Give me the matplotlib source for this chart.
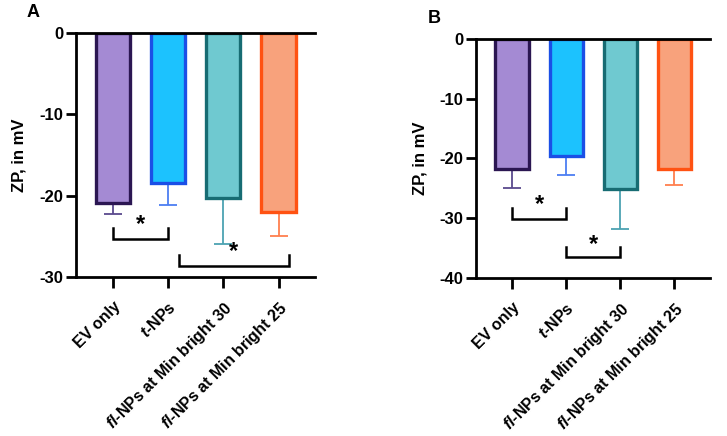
import matplotlib.pyplot as plt
import numpy as np

plt.rcParams['font.family'] = 'Liberation Sans'
plt.rcParams['font.weight'] = 'bold'
plt.rcParams['axes.unicode_minus'] = False
plt.rcParams['mathtext.fontset'] = 'custom'
plt.rcParams['mathtext.it'] = 'Liberation Sans:italic:bold'
plt.rcParams['mathtext.rm'] = 'Liberation Sans:bold'

categories = ["EV only", r"$t$-NPs", r"$fl$-NPs at Min bright 30", r"$fl$-NPs at Min bright 25"]

# panel A
zp_a = [-20.9, -18.5, -20.3, -22.0]
err_a = [1.3, 2.6, 5.6, 2.9]
yticks_a = [0, -10, -20, -30]
# panel B
zp_b = [-21.8, -19.6, -25.2, -21.8]
err_b = [3.2, 3.2, 6.7, 2.7]
yticks_b = [0, -10, -20, -30, -40]

fill_colors = ["#A48AD3", "#1CC2FE", "#6FC9D0", "#F8A27C"]
edge_colors = ["#2B1652", "#1B4FE6", "#176C73", "#FF5212"]
err_colors = ["#5B4A8E", "#4C7EF2", "#4CA3B2", "#FF7F4E"]

# brackets: (x1, x2, tip_y, bar_y, star_x, star_y)
brackets_a = [(0, 1, -24.0, -25.3, 0.5, -23.6),
              (1.2, 3.18, -27.3, -28.6, 2.19, -26.9)]
brackets_b = [(0, 1, -28.3, -30.1, 0.5, -27.7),
              (1, 2, -34.8, -36.6, 1.5, -34.4)]


def draw_panel(ax, values, errs, brackets, yticks, letter):
    x = np.arange(len(values))
    for i in range(len(values)):
        ax.errorbar(x[i], values[i], yerr=[[errs[i]], [0]], fmt='none',
                    ecolor=err_colors[i], elinewidth=1.3, capsize=6.5,
                    capthick=1.3, zorder=1)
        ax.bar(x[i], values[i], width=0.62, color=fill_colors[i],
               edgecolor=edge_colors[i], linewidth=2.4, zorder=2)
    for x1, x2, tip, low, sx, sy in brackets:
        ax.plot([x1, x1, x2, x2], [tip, low, low, tip], color='black',
                lw=1.8, solid_joinstyle='miter', clip_on=False, zorder=3)
        ax.text(sx, sy, '*', ha='center', va='center', fontsize=17,
                fontweight='bold', zorder=3)
    ax.set_xlim(-0.67, 3.66)
    ax.set_ylim(min(yticks), 0)
    ax.set_yticks(yticks)
    ax.set_yticklabels([str(t) for t in yticks], fontsize=12, fontweight='bold')
    ax.set_xticks(x)
    ax.set_xticklabels(categories, rotation=45, ha='right', va='top',
                       rotation_mode='anchor', fontsize=11.5, fontweight='bold')
    ax.tick_params(axis='x', length=8, width=2, pad=8)
    ax.tick_params(axis='y', length=7, width=2, pad=2)
    ax.spines['right'].set_visible(False)
    for s in ['left', 'bottom', 'top']:
        ax.spines[s].set_linewidth(2.0)
    ax.set_ylabel('ZP, in mV', fontsize=12, fontweight='bold')
    ax.yaxis.set_label_coords(-0.207, 0.5)
    ax.text(-0.18, 1.05, letter, transform=ax.transAxes, fontsize=13,
            fontweight='bold', ha='center', va='bottom')


fig = plt.figure(figsize=(7.27, 4.36), dpi=100)
ax_a = fig.add_axes([0.1045, 0.3647, 0.3288, 0.5596])
ax_b = fig.add_axes([0.6548, 0.3635, 0.3219, 0.5463])

draw_panel(ax_a, zp_a, err_a, brackets_a, yticks_a, 'A')
draw_panel(ax_b, zp_b, err_b, brackets_b, yticks_b, 'B')

fig.savefig('out.png', dpi=100)
